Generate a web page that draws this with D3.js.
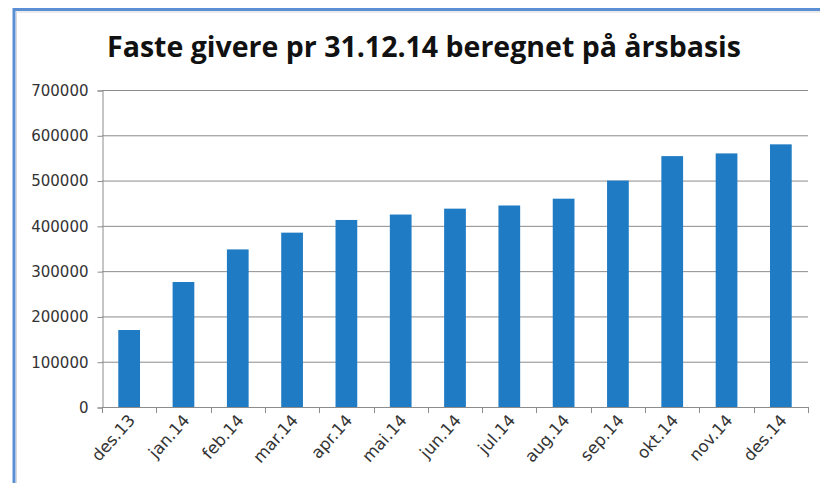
<!DOCTYPE html>
<html>
<head>
<meta charset="utf-8">
<script src="https://cdn.jsdelivr.net/npm/d3@7"></script>
<style>
  body { margin: 0; background: #fff; }
  svg { display: block; }
</style>
</head>
<body>
<script>
(function() {
  'use strict';

  const months = ['des.13', 'jan.14', 'feb.14', 'mar.14', 'apr.14', 'mai.14', 'jun.14',
    'jul.14', 'aug.14', 'sep.14', 'okt.14', 'nov.14', 'des.14'];
  const values = [170000, 276000, 348000, 385000, 413000, 425000, 438000,
    445000, 460000, 500000, 554000, 560000, 580000];
  const yTicks = [0, 100000, 200000, 300000, 400000, 500000, 600000, 700000];

  const w = 820;
  const h = 483;
  const left = 102, right = 808, top = 90, bottom = 407;

  const svg = d3.select('body').append('svg')
    .attr('width', w)
    .attr('height', h);

  // frame of the chart object
  svg.append('rect')
    .attr('x', 14).attr('y', 9.5)
    .attr('width', 900).attr('height', 600)
    .attr('fill', 'none')
    .attr('stroke', '#5a8fd3')
    .attr('stroke-width', 3);
  svg.append('rect')
    .attr('x', 16.5).attr('y', 12)
    .attr('width', 900).attr('height', 600)
    .attr('fill', 'none')
    .attr('stroke', '#d8d8d8')
    .attr('stroke-width', 1);

  svg.append('text')
    .attr('x', 424).attr('y', 57)
    .attr('text-anchor', 'middle')
    .attr('font-family', 'Open Sans, sans-serif')
    .attr('font-weight', 'bold')
    .attr('font-size', 28.5)
    .attr('fill', '#111')
    .text('Faste givere pr 31.12.14 beregnet på årsbasis');

  const xScale = d3.scaleBand()
    .domain(months)
    .range([left, right])
    .paddingInner(0.6)
    .paddingOuter(0.3);

  const yScale = d3.scaleLinear()
    .domain([0, 700000])
    .range([bottom, top]);

  // gridlines
  svg.append('g')
    .selectAll('line')
    .data(yTicks.slice(1))
    .join('line')
    .attr('x1', left).attr('x2', right)
    .attr('y1', d => yScale(d) + 0.5).attr('y2', d => yScale(d) + 0.5)
    .attr('stroke', '#8c8c8c')
    .attr('stroke-width', 1);

  // bars
  svg.append('g')
    .selectAll('rect')
    .data(values)
    .join('rect')
    .attr('x', (d, i) => xScale(months[i]))
    .attr('y', d => yScale(d))
    .attr('width', xScale.bandwidth())
    .attr('height', d => bottom - yScale(d))
    .attr('fill', '#1f7bc3');

  // y axis
  const yAxis = d3.axisLeft(yScale)
    .tickValues(yTicks)
    .tickSize(5)
    .tickPadding(9)
    .tickFormat(d3.format('d'));
  const gy = svg.append('g')
    .attr('transform', 'translate(' + (left + 0.5) + ',0.5)')
    .call(yAxis);
  gy.select('.domain').attr('stroke', '#8c8c8c');
  gy.selectAll('.tick line').attr('stroke', '#8c8c8c');
  gy.selectAll('.tick text')
    .attr('font-family', 'DejaVu Sans, sans-serif')
    .attr('font-size', 15)
    .attr('fill', '#333');

  // x axis, ticks at category boundaries
  const step = xScale.step();
  const bounds = d3.range(months.length + 1).map(i => left + i * step);
  const gx = svg.append('g');
  gx.append('line')
    .attr('x1', left).attr('x2', right)
    .attr('y1', bottom + 0.5).attr('y2', bottom + 0.5)
    .attr('stroke', '#8c8c8c');
  gx.selectAll('line.tk')
    .data(bounds)
    .join('line')
    .attr('class', 'tk')
    .attr('x1', d => Math.round(d) + 0.5).attr('x2', d => Math.round(d) + 0.5)
    .attr('y1', bottom).attr('y2', bottom + 6)
    .attr('stroke', '#8c8c8c');
  gx.selectAll('text')
    .data(months)
    .join('text')
    .attr('transform', d => 'translate(' + (xScale(d) + xScale.bandwidth() / 2 + 7) + ',' + (bottom + 14) + ') rotate(-48)')
    .attr('text-anchor', 'end')
    .attr('font-family', 'DejaVu Sans, sans-serif')
    .attr('font-size', 16.5)
    .attr('fill', '#333')
    .text(d => d);
}());
</script>
</body>
</html>
